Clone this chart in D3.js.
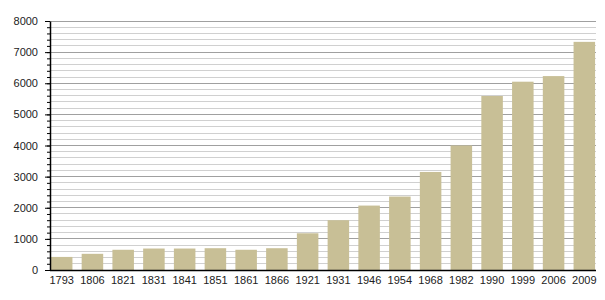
<!DOCTYPE html>
<html><head><meta charset="utf-8">
<script src="https://cdn.jsdelivr.net/npm/d3@7"></script>
<style>body{margin:0;background:#fff;}svg{display:block;}</style>
</head><body>
<svg id="c" width="605" height="300"></svg>
<script>
const years = ["1793","1806","1821","1831","1841","1851","1861","1866","1921","1931","1946","1954","1968","1982","1990","1999","2006","2009"];
const population = [420,520,650,690,690,700,650,700,1180,1600,2070,2360,3150,4000,5590,6050,6230,7330];
const majorTicks = [0,1000,2000,3000,4000,5000,6000,7000,8000];
const minorTicks = d3.range(0, 8001, 200);

const svg = d3.select("#c");
const m = {l:50, r:9, t:21, b:30};
const W = 605, H = 300;
const x = d3.scaleBand().domain(years).range([m.l, W - m.r]).paddingInner(0.3).paddingOuter(0.03);
const y = d3.scaleLinear().domain([0, 8000]).range([H - m.b, m.t]);

// minor gridlines
svg.append("g").selectAll("line").data(minorTicks.filter(v => v % 1000 !== 0)).join("line")
  .attr("x1", m.l).attr("x2", W - m.r)
  .attr("y1", d => y(d)).attr("y2", d => y(d))
  .attr("stroke", "#d0d0d0").attr("stroke-width", 1).attr("shape-rendering", "crispEdges");
// major gridlines
svg.append("g").selectAll("line").data(majorTicks.filter(v => v > 0)).join("line")
  .attr("x1", m.l).attr("x2", W - m.r)
  .attr("y1", d => y(d)).attr("y2", d => y(d))
  .attr("stroke", "#a0a0a0").attr("stroke-width", 1).attr("shape-rendering", "crispEdges");

// bars
svg.append("g").selectAll("rect").data(years).join("rect")
  .attr("x", d => x(d)).attr("width", x.bandwidth())
  .attr("y", (d, i) => y(population[i]))
  .attr("height", (d, i) => y(0) - y(population[i]))
  .attr("fill", "#c8bf96");

// y axis minor ticks
svg.append("g").attr("transform", `translate(${m.l},0)`)
  .call(d3.axisLeft(y).tickValues(minorTicks).tickSize(3).tickFormat(""))
  .call(g => g.select(".domain").remove())
  .call(g => g.selectAll("line").attr("stroke", "#000"));
// y axis major
svg.append("g").attr("transform", `translate(${m.l},0)`)
  .call(d3.axisLeft(y).tickValues(majorTicks).tickSize(5).tickSizeOuter(0).tickPadding(7).tickFormat(d3.format("d")))
  .call(g => g.select(".domain").attr("stroke", "#000").attr("stroke-width", 1.5))
  .call(g => g.selectAll("line").attr("stroke", "#000"))
  .call(g => g.selectAll("text").attr("font-family", "Liberation Sans, Arial, sans-serif").attr("font-size", 11).attr("fill", "#222"));

// x axis
svg.append("g").attr("transform", `translate(0,${y(0)})`)
  .call(d3.axisBottom(x).tickSize(0).tickPadding(6))
  .call(g => g.select(".domain").attr("stroke", "#000").attr("stroke-width", 1.5).attr("d", `M${m.l},0.5H${W - m.r}`))
  .call(g => g.selectAll("text").attr("font-family", "Liberation Sans, Arial, sans-serif").attr("font-size", 11).attr("fill", "#222"));
</script>
</body></html>
